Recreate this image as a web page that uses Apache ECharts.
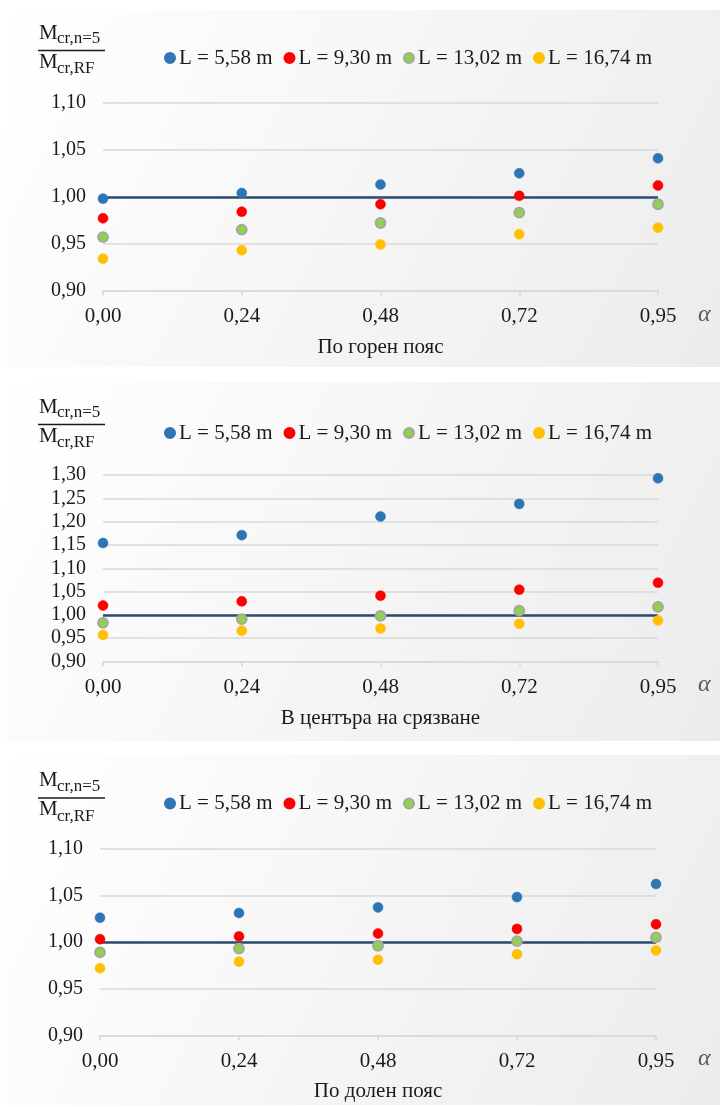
<!DOCTYPE html>
<html>
<head>
<meta charset="utf-8">
<script src="https://cdn.jsdelivr.net/npm/echarts@6/dist/echarts.min.js"></script>
<style>
html,body{margin:0;padding:0;background:#ffffff;}
#chart{width:720px;height:1107px;}
</style>
</head>
<body>
<div id="chart"></div>
<script>
// ---- data ----
const categories = ['0,00', '0,24', '0,48', '0,72', '0,95'];
const seriesNames = ['L = 5,58 m', 'L = 9,30 m', 'L = 13,02 m', 'L = 16,74 m'];
const panelTitles = ['По горен пояс', 'В центъра на срязване', 'По долен пояс'];

// Panel 1: По горен пояс
const top_L558 = [0.998, 1.004, 1.013, 1.025, 1.041];
const top_L930 = [0.977, 0.984, 0.992, 1.001, 1.012];
const top_L1302 = [0.957, 0.965, 0.972, 0.983, 0.992];
const top_L1674 = [0.934, 0.943, 0.949, 0.960, 0.967];

// Panel 2: В центъра на срязване
const mid_L558 = [1.154, 1.171, 1.211, 1.238, 1.293];
const mid_L930 = [1.020, 1.029, 1.041, 1.054, 1.069];
const mid_L1302 = [0.983, 0.991, 0.998, 1.009, 1.017];
const mid_L1674 = [0.957, 0.966, 0.971, 0.981, 0.988];

// Panel 3: По долен пояс
const bot_L558 = [1.026, 1.031, 1.037, 1.048, 1.062];
const bot_L930 = [1.003, 1.006, 1.009, 1.014, 1.019];
const bot_L1302 = [0.989, 0.993, 0.996, 1.001, 1.005];
const bot_L1674 = [0.972, 0.979, 0.981, 0.987, 0.991];

const referenceValue = 1.00;
const yMin = [0.90, 0.90, 0.90];
const yMax = [1.10, 1.30, 1.10];
const yInterval = 0.05;

// ---- styling ----
const FONT = "'Liberation Serif', 'Times New Roman', serif";
const colors = ['#2E75B6', '#FF0000', '#92D050', '#FFC000'];
const borders = ['#2E75B6', '#FF0000', '#A5A5A5', '#FFC000'];
const panelData = [
  [top_L558, top_L930, top_L1302, top_L1674],
  [mid_L558, mid_L930, mid_L1302, mid_L1674],
  [bot_L558, bot_L930, bot_L1302, bot_L1674]
];

// layout per panel
const panels = [
  {bgTop: 10,  bgBottom: 367,  gridTop: 103, gridBottom: 290.5, left: 103, right: 658, legendY: 53.5, fracLine: 50.5, xLabelY: 316.5, titleY: 347},
  {bgTop: 382, bgBottom: 741,  gridTop: 475, gridBottom: 661.5, left: 103, right: 658, legendY: 428.5, fracLine: 424.5, xLabelY: 686.5, titleY: 718.5},
  {bgTop: 755, bgBottom: 1105, gridTop: 848.5, gridBottom: 1035.5, left: 100, right: 656, legendY: 799, fracLine: 798, xLabelY: 1061, titleY: 1091}
];

const fmt = v => v.toFixed(2).replace('.', ',');

const grids = [], xAxes = [], yAxes = [], series = [], legends = [], graphics = [];

panels.forEach((p, i) => {
  // background panel
  graphics.push({
    type: 'rect', z: -10, silent: true,
    shape: {x: 7, y: p.bgTop, width: 713, height: p.bgBottom - p.bgTop},
    style: {fill: new echarts.graphic.LinearGradient(0, 0, 1, 1, [
      {offset: 0, color: '#ffffff'},
      {offset: 1, color: '#ececec'}
    ])}
  });
  // y-axis fraction label
  const fx = 38;
  graphics.push({type: 'text', z: 100, silent: true, x: fx + 1, y: p.fracLine - 7,
    style: {text: 'M', font: '21px ' + FONT, fill: '#1a1a1a', textVerticalAlign: 'bottom'}});
  graphics.push({type: 'text', z: 100, silent: true, x: fx + 19, y: p.fracLine - 3,
    style: {text: 'cr,n=5', font: '17px ' + FONT, fill: '#1a1a1a', textVerticalAlign: 'bottom'}});
  graphics.push({type: 'line', z: 100, silent: true,
    shape: {x1: fx, y1: p.fracLine, x2: fx + 67, y2: p.fracLine},
    style: {stroke: '#1a1a1a', lineWidth: 1.5}});
  graphics.push({type: 'text', z: 100, silent: true, x: fx + 1, y: p.fracLine + 22,
    style: {text: 'M', font: '21px ' + FONT, fill: '#1a1a1a', textVerticalAlign: 'bottom'}});
  graphics.push({type: 'text', z: 100, silent: true, x: fx + 19, y: p.fracLine + 27,
    style: {text: 'cr,RF', font: '17px ' + FONT, fill: '#1a1a1a', textVerticalAlign: 'bottom'}});
  // alpha
  graphics.push({type: 'text', z: 100, silent: true, x: 698, y: p.xLabelY - 2,
    style: {text: 'α', font: 'italic 24px ' + FONT, fill: '#595959', textVerticalAlign: 'middle'}});
  // panel title
  graphics.push({type: 'text', z: 100, silent: true, x: (p.left + p.right) / 2, y: p.titleY,
    style: {text: panelTitles[i], font: '21px ' + FONT, fill: '#1a1a1a', textAlign: 'center', textVerticalAlign: 'middle'}});

  grids.push({left: p.left, width: p.right - p.left, top: p.gridTop, height: p.gridBottom - p.gridTop, containLabel: false});
  xAxes.push({
    type: 'category', gridIndex: i, data: categories, boundaryGap: false,
    axisLine: {show: true, lineStyle: {color: '#d9d9d9', width: 1.5}},
    axisTick: {show: true, length: 5, lineStyle: {color: '#d9d9d9', width: 1.5}},
    axisLabel: {margin: 15, fontFamily: FONT, fontSize: 21, color: '#1a1a1a'},
    splitLine: {show: false}
  });
  yAxes.push({
    type: 'value', gridIndex: i, min: yMin[i], max: yMax[i], interval: yInterval,
    axisLine: {show: false}, axisTick: {show: false},
    axisLabel: {margin: 17, fontFamily: FONT, fontSize: 20, color: '#1a1a1a', formatter: fmt},
    splitLine: {lineStyle: {color: '#d9d9d9', width: 1.5}}
  });
  panelData[i].forEach((vals, k) => {
    const s = {
      name: seriesNames[k], type: 'scatter', xAxisIndex: i, yAxisIndex: i,
      data: vals, symbol: 'circle', symbolSize: 10, z: 5,
      itemStyle: {color: colors[k], borderColor: borders[k], borderWidth: k === 2 ? 1.8 : 0.5, opacity: 1},
      emphasis: {disabled: true}
    };
    if (k === 0) {
      s.markLine = {
        silent: true, symbol: 'none', animation: false, z: 3,
        label: {show: false},
        lineStyle: {color: '#2B4C6F', width: 2.5, type: 'solid'},
        data: [{yAxis: referenceValue}]
      };
    }
    series.push(s);
  });
  legends.push({
    data: seriesNames.map(n => ({name: n, icon: 'circle'})),
    left: 159, top: p.legendY - 11,
    itemWidth: 10, itemHeight: 10, itemGap: 11,
    textStyle: {fontFamily: FONT, fontSize: 21, color: '#1a1a1a', padding: [0, 0, 0, -1]},
    selectedMode: false
  });
});

const chart = echarts.init(document.getElementById('chart'), null, {renderer: 'canvas'});
chart.setOption({
  animation: false,
  backgroundColor: '#ffffff',
  grid: grids, xAxis: xAxes, yAxis: yAxes, series: series, legend: legends,
  graphic: graphics
});
</script>
</body>
</html>
